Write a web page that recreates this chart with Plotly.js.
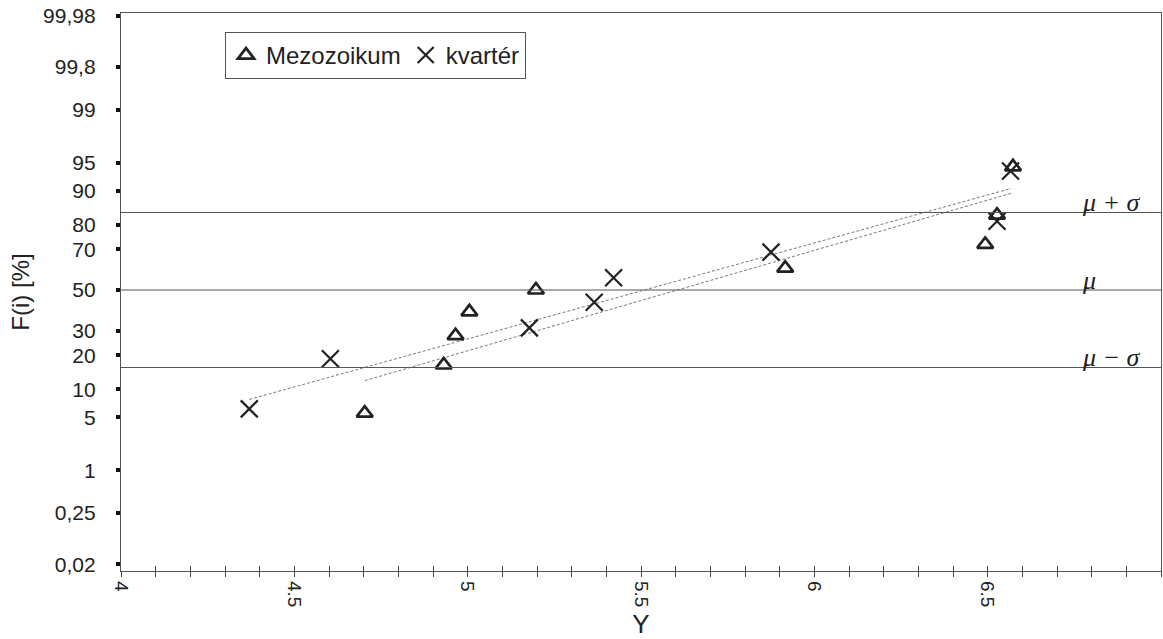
<!DOCTYPE html>
<html>
<head>
<meta charset="utf-8">
<script src="https://cdn.plot.ly/plotly-3.0.1.min.js"></script>
<style>html,body{margin:0;padding:0;background:#fff;}#chart{width:1163px;height:639px;}</style>
</head>
<body>
<div id="chart"></div>
<script>
// ---- data ----
const mezoX = [4.703, 4.931, 4.965, 5.005, 5.197, 5.916, 6.493, 6.527, 6.573];
const mezoF = [5.6, 16.7, 27.8, 38.9, 50.0, 61.1, 72.2, 83.3, 94.4];
const kvarterX = [4.370, 4.604, 5.178, 5.365, 5.421, 5.875, 6.527, 6.566];
const kvarterF = [6.25, 18.75, 31.25, 43.75, 56.25, 68.75, 81.25, 93.75];
const fitKvarterX = [4.370, 6.568];
const fitKvarterF = [7.9, 90.5];
const fitMezoX = [4.703, 6.568];
const fitMezoF = [12.1, 89.4];
const tickPercent = [0.02, 0.2, 1, 5, 10, 20, 30, 50, 70, 80, 90, 95, 99, 99.8, 99.98];
const tickLabels = ["0,02", "0,25", "1", "5", "10", "20", "30", "50", "70", "80", "90", "95", "99", "99,8", "99,98"];
const xTickVals = [4, 4.5, 5, 5.5, 6, 6.5, 7];
const refLevelsZ = [1, 0, -1];
const refLabels = ["μ + σ", "μ", "μ − σ"];
const seriesNames = ["Mezozoikum", "kvartér"];

// inverse standard normal CDF (Acklam) — probability-paper scale transform
function probit(p) {
  const a = [-3.969683028665376e+01, 2.209460984245205e+02, -2.759285104469687e+02, 1.383577518672690e+02, -3.066479806614716e+01, 2.506628277459239e+00];
  const b = [-5.447609879822406e+01, 1.615858368580409e+02, -1.556989798598866e+02, 6.680131188771972e+01, -1.328068155288572e+01];
  const c = [-7.784894002430293e-03, -3.223964580411365e-01, -2.400758277161838e+00, -2.549732539343734e+00, 4.374664141464968e+00, 2.938163982698783e+00];
  const d = [7.784695709041462e-03, 3.224671290700398e-01, 2.445134137142996e+00, 3.754408661907416e+00];
  const pl = 0.02425, ph = 1 - pl;
  let q, r;
  if (p < pl) {
    q = Math.sqrt(-2 * Math.log(p));
    return (((((c[0]*q+c[1])*q+c[2])*q+c[3])*q+c[4])*q+c[5]) / ((((d[0]*q+d[1])*q+d[2])*q+d[3])*q+1);
  } else if (p <= ph) {
    q = p - 0.5; r = q * q;
    return (((((a[0]*r+a[1])*r+a[2])*r+a[3])*r+a[4])*r+a[5])*q / (((((b[0]*r+b[1])*r+b[2])*r+b[3])*r+b[4])*r+1);
  } else {
    q = Math.sqrt(-2 * Math.log(1 - p));
    return -(((((c[0]*q+c[1])*q+c[2])*q+c[3])*q+c[4])*q+c[5]) / ((((d[0]*q+d[1])*q+d[2])*q+d[3])*q+1);
  }
}
const z = arr => arr.map(v => probit(v / 100));

const ink = '#222222';
const traces = [
  {x: fitKvarterX, y: z(fitKvarterF), mode: 'lines', showlegend: false, hoverinfo: 'skip',
   line: {color: '#7a7a7a', width: 1, dash: '3px,2px'}},
  {x: fitMezoX, y: z(fitMezoF), mode: 'lines', showlegend: false, hoverinfo: 'skip',
   line: {color: '#7a7a7a', width: 1, dash: '3px,2px'}},
  {x: mezoX, y: z(mezoF), mode: 'markers', name: seriesNames[0],
   marker: {symbol: 'triangle-up-open', size: 14, color: ink, line: {color: ink, width: 2.7}}},
  {x: kvarterX, y: z(kvarterF), mode: 'markers', name: seriesNames[1],
   marker: {symbol: 'x-thin-open', size: 17, color: ink, line: {color: ink, width: 2.2}}},
  // overlay axis trace for the inside part of the x minor ticks
  {x: [4, 7], y: [0, 0], xaxis: 'x2', mode: 'none', showlegend: false, hoverinfo: 'skip'}
];

const shapes = refLevelsZ.map(v => ({
  type: 'line', xref: 'paper', x0: 0, x1: 1, yref: 'y', y0: v, y1: v,
  line: {color: '#555555', width: 1.2}
}));
const annotations = refLevelsZ.map((v, i) => ({
  text: refLabels[i], x: 6.767, y: v, xref: 'x', yref: 'y', xanchor: 'left', yanchor: 'bottom',
  yshift: -7, showarrow: false,
  font: {family: 'Liberation Serif, Times New Roman, serif', size: 26, color: ink, style: 'italic'}
}));

const layout = {
  width: 1163, height: 639,
  margin: {l: 121, r: 2, t: 13, b: 68, autoexpand: false},
  paper_bgcolor: '#fff', plot_bgcolor: '#fff',
  font: {family: 'Liberation Sans, Arial, sans-serif', color: ink},
  showlegend: true,
  legend: {
    orientation: 'h', x: 0.1, y: 0.966, xanchor: 'left', yanchor: 'top',
    bordercolor: '#555', borderwidth: 1, bgcolor: '#fff',
    font: {size: 24, color: ink}, itemwidth: 30, tracegroupgap: 0
  },
  xaxis: {
    range: [4, 7], tickmode: 'array', tickvals: xTickVals, ticktext: xTickVals.map(String),
    ticks: 'outside', ticklen: 5, tickwidth: 1, tickcolor: '#444',
    minor: {dtick: 0.1, ticks: 'outside', ticklen: 5, tickwidth: 1, tickcolor: '#444'},
    tickangle: 90, tickfont: {family: 'Liberation Sans, Arial, sans-serif', size: 19, color: ink},
    automargin: false,
    showgrid: false, zeroline: false, showline: true, linecolor: '#555', linewidth: 1.2, mirror: true,
    title: {text: 'Y', font: {size: 26, color: ink}, standoff: 10}
  },
  xaxis2: {
    range: [4, 7], overlaying: 'x', anchor: 'y', side: 'bottom', tickmode: 'linear', tick0: 4, dtick: 0.1,
    ticks: 'inside', ticklen: 5, tickwidth: 1, tickcolor: '#444', showticklabels: false,
    showgrid: false, zeroline: false, showline: false
  },
  yaxis: {
    range: [-3.626, 3.574], tickmode: 'array', tickvals: tickPercent.map(p => probit(p / 100)), ticktext: tickLabels,
    ticks: 'outside', ticklen: 4, tickwidth: 4, tickcolor: '#111', ticklabelstandoff: 16,
    tickfont: {family: 'Liberation Sans, Arial, sans-serif', size: 21, color: ink},
    automargin: false,
    showgrid: false, zeroline: false, showline: true, linecolor: '#555', linewidth: 1.2, mirror: true,
    title: {text: 'F(i) [%]', font: {size: 24, color: ink}, standoff: 6}
  },
  shapes: shapes,
  annotations: annotations
};

Plotly.newPlot('chart', traces, layout, {displayModeBar: false, staticPlot: true});
</script>
</body>
</html>
